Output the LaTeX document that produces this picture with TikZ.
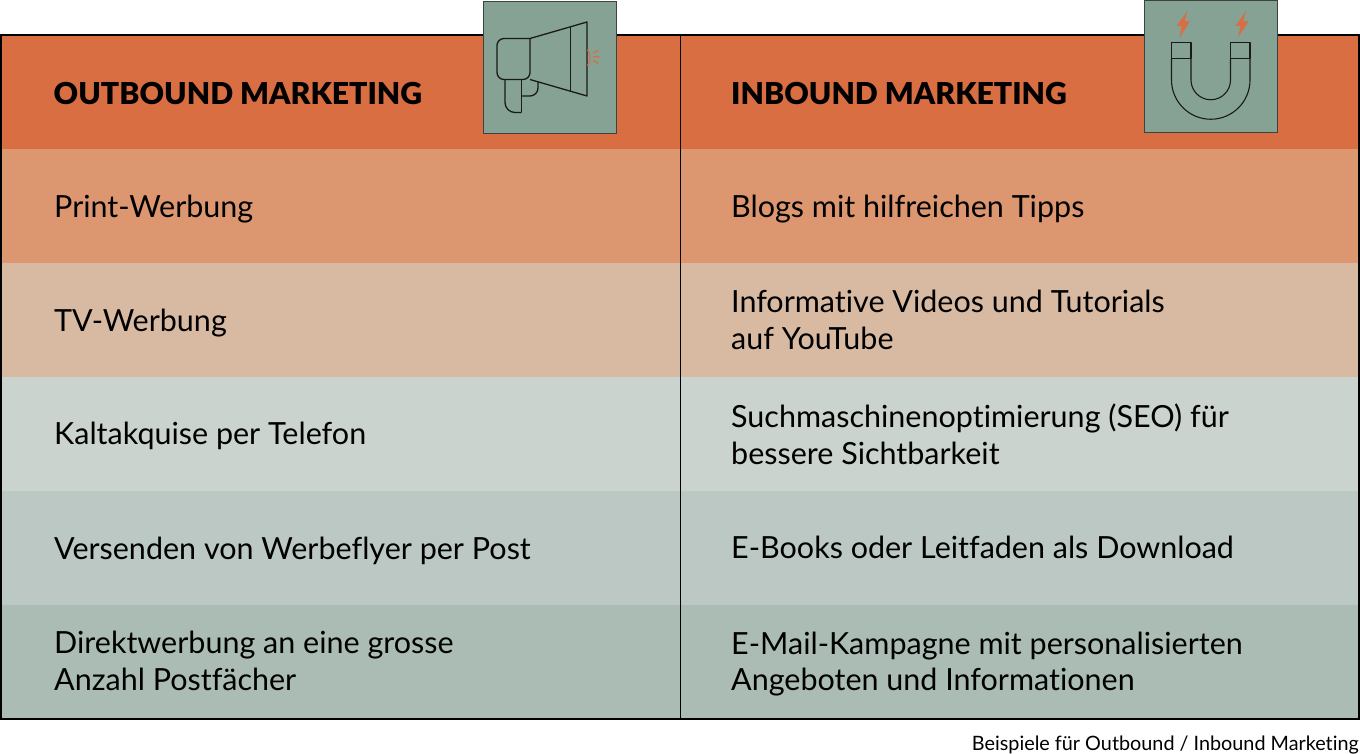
\documentclass[tikz,border=0pt]{standalone}
\usepackage{fontspec}
\setmainfont{Lato}[Ligatures=NoCommon,BoldFont={Lato Black}]
\definecolor{hd}{HTML}{D96E42}
\definecolor{r1}{HTML}{DC9670}
\definecolor{r2}{HTML}{D8BAA3}
\definecolor{r3}{HTML}{CBD3CE}
\definecolor{r4}{HTML}{BBC8C3}
\definecolor{r5}{HTML}{ABBCB5}
\definecolor{ic}{HTML}{85A294}
\definecolor{ln}{HTML}{1A1A1A}
\tikzset{
 cell/.style={anchor=west,align=left,inner sep=0pt,font=\fontsize{30.5}{36.8}\selectfont,text=black},
 head/.style={anchor=west,inner sep=0pt,font=\fontsize{30.2}{36}\selectfont\bfseries,text=black},
 iconbox/.style={fill=ic,draw=ln!70!ic,line width=1pt},
 iconline/.style={draw=ln,line width=1.3pt,line join=round},
 spark/.style={fill=hd,draw=none},
 sound/.style={draw=hd,line width=1.2pt}
}
\begin{document}
\begin{tikzpicture}[x=1pt,y=-1pt]
\useasboundingbox (0,0) rectangle (1360,754);
\fill[hd] (1,35) rectangle (1359,149.5);
\fill[r1] (1,149.5) rectangle (1359,263);
\fill[r2] (1,263) rectangle (1359,377);
\fill[r3] (1,377) rectangle (1359,491);
\fill[r4] (1,491) rectangle (1359,605);
\fill[r5] (1,605) rectangle (1359,719);
\draw[black,line width=1.5pt] (1,35) rectangle (1359,719);
\draw[black,line width=1.5pt] (680.5,35) -- (680.5,719);
\node[head] (h1) at (53.5,93.5) {OUTBOUND MARKETING};
\node[head] (h2) at (731,93.5) {INBOUND MARKETING};
\node[cell] (a1) at (54,209) {Print-Werbung};
\node[cell] (a2) at (54,323) {TV-Werbung};
\node[cell] (a3) at (54,436) {Kaltakquise per Telefon};
\node[cell] (a4) at (54,551) {Versenden von Werbeflyer per Post};
\node[cell] (a5) at (54,661) {Direktwerbung an eine grosse\\Anzahl Postfächer};
\node[cell] (b1) at (731,209) {Blogs mit hilfreichen Tipps};
\node[cell] (b2) at (731,320) {Informative Videos und Tutorials\\auf YouTube};
\node[cell] (b3) at (731,434) {Suchmaschinenoptimierung (SEO) für\\bessere Sichtbarkeit};
\node[cell] (b4) at (731,547) {E-Books oder Leitfaden als Download};
\node[cell] (b5) at (731,664) {E-Mail-Kampagne mit personalisierten\\Angeboten und Informationen};
\node[anchor=east,inner sep=0pt,font=\fontsize{19.8}{23}\selectfont] (cap) at (1359,745) {Beispiele für Outbound / Inbound Marketing};
% megaphone
\draw[iconbox] (483.5,1.5) rectangle (616,134);
\begin{scope}[iconline]
\draw[rounded corners=7pt] (530,38.5) -- (497,38.5) -- (497,79.5) -- (530,79.5) [sharp corners] -- cycle;
\draw (530,38.5) -- (587,22) -- (587,96) -- (530,79.5);
\draw (570.5,27) -- (570.5,91);
\draw[rounded corners=10pt] (505,79.5) -- (505,112.5) -- (521.5,112.5);
\draw (521.5,112.5) -- (521.5,79.5);
\draw[rounded corners=8pt] (521.5,96) -- (538,96) -- (538,82);
\end{scope}
\draw[sound] (587.5,49.5) .. controls (591,55) and (591,61) .. (587.5,65.5);
\draw[sound] (593,53) -- (598.5,50.5) (593,56.7) -- (599.5,56.7) (593,60.5) -- (598.5,63.5);
% magnet
\draw[iconbox] (1144.5,1) rectangle (1277,133);
\begin{scope}[iconline,line width=1.1pt]
\draw (1171.5,42.5) rectangle (1191,58.5);
\draw (1230.5,42.5) rectangle (1250,58.5);
\draw (1171.5,58.5) -- (1171.5,80) arc[start angle=180,end angle=0,radius=39.25] -- (1250,58.5);
\draw (1191,58.5) -- (1191,80) arc[start angle=180,end angle=0,radius=19.75] -- (1230.5,58.5);
\end{scope}
\fill[spark] (1187.5,11) -- (1176.5,26) -- (1181.5,26) -- (1179.5,37.5) -- (1190,21.5) -- (1184.5,21.5) -- cycle;
\fill[spark] (1246,11) -- (1235.5,26) -- (1240.5,26) -- (1238,37.5) -- (1248.5,21.5) -- (1243,21.5) -- cycle;
\end{tikzpicture}
\end{document}
